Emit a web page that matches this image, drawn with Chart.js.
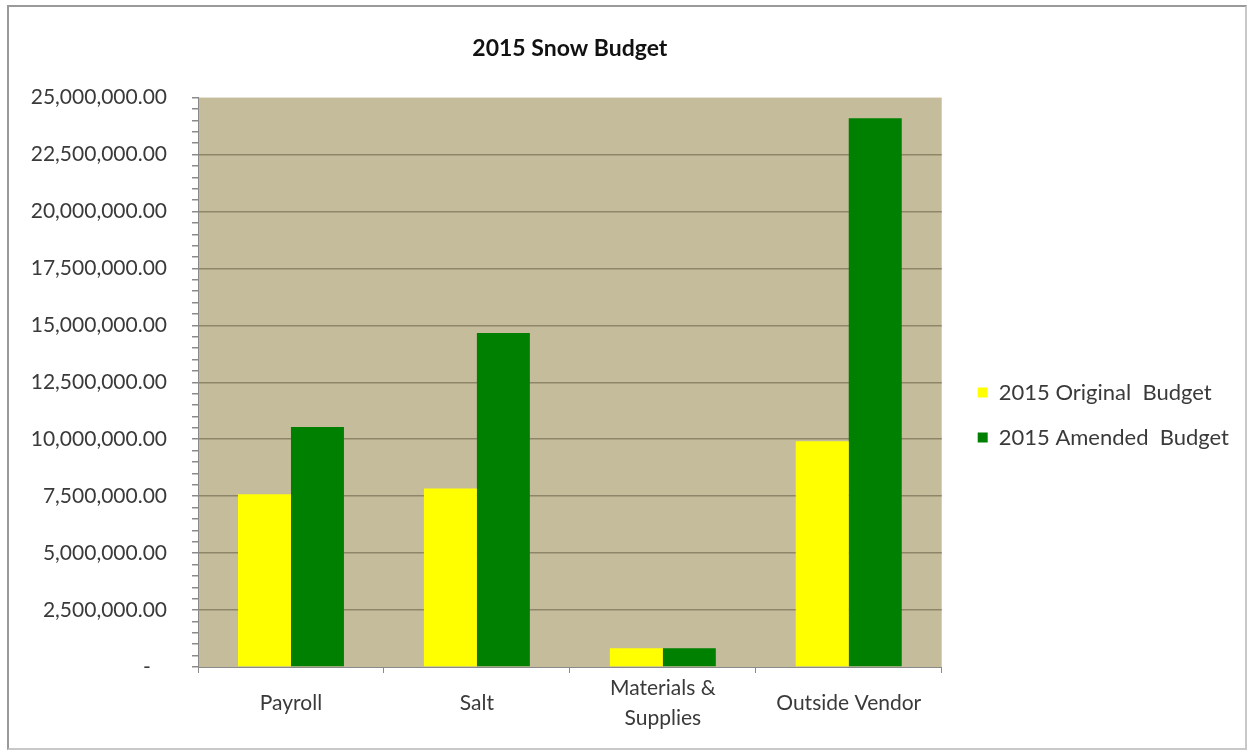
<!doctype html>
<html lang="en">
  <head>
    <meta charset="utf-8">
    <title>2015 Snow Budget</title>
    <script src="https://cdn.jsdelivr.net/npm/chart.js@4.4.0/dist/chart.umd.min.js"></script>
    <style>
      body { margin: 0; background: #fff; }
      #wrap { position: relative; width: 1252px; height: 755px; }
      #frame {
        position: absolute; left: 7px; top: 5px; width: 1236px; height: 741px;
        border: 2px solid #9a9a9a; border-right-color: #c8c8c8; border-bottom-color: #c8c8c8;
        pointer-events: none;
      }
    </style>
  </head>

  <body>
    <div id="wrap">
      <canvas id="budget" width="1252" height="755"></canvas>
      <div id="frame"></div>
    </div>

  <script>
    const categories = ['Payroll', 'Salt', ['Materials &', 'Supplies'], 'Outside Vendor'];
    const originalBudget = [7590000, 7840000, 820000, 9910000];
    const amendedBudget = [10540000, 14660000, 820000, 24090000];
    const seriesNames = ['2015 Original  Budget', '2015 Amended  Budget'];

    const MAJOR = 2500000;
    const TOP = 25000000;
    const textColor = '#3a3a3a';
    const fontFamily = 'Lato, "Open Sans", sans-serif';

    function money(v) {
      if (v === 0) return '-   ';
      return v.toLocaleString('en-US', {minimumFractionDigits: 2, maximumFractionDigits: 2});
    }

    // tan plot area behind the bars
    const plotBg = {
      id: 'plotBg',
      beforeDraw(chart) {
        const a = chart.chartArea, c = chart.ctx;
        c.save();
        c.fillStyle = '#c4bc9a';
        c.fillRect(a.left, a.top, a.right - a.left, a.bottom - a.top);
        c.restore();
      }
    };

    // title centred over the plot, legend nudged away from it
    const boxTweaks = {
      id: 'boxTweaks',
      afterLayout(chart) {
        if (chart.titleBlock) {
          chart.titleBlock.left = chart.chartArea.left;
          chart.titleBlock.right = chart.chartArea.right;
        }
        const lg = chart.legend;
        if (lg) {
          lg.left += 13; lg.right += 13;
          lg.top += 41; lg.bottom += 41;
        }
      }
    };

    const ctx = document.getElementById('budget').getContext('2d');
    new Chart(ctx, {
      type: 'bar',
      data: {
        labels: categories,
        datasets: [
          { label: seriesNames[0], data: originalBudget, backgroundColor: '#ffff00' },
          { label: seriesNames[1], data: amendedBudget, backgroundColor: '#008000' }
        ]
      },
      options: {
        responsive: false,
        animation: false,
        layout: { padding: { left: 10, right: 26, top: 0, bottom: 7 } },
        datasets: { bar: { categoryPercentage: 0.57, barPercentage: 1.0 } },
        plugins: {
          title: {
            display: true,
            text: '2015 Snow Budget',
            color: '#111',
            font: { family: fontFamily, size: 23, weight: 'bold', lineHeight: 1.2 },
            padding: { top: 35, bottom: 35 }
          },
          legend: {
            position: 'right',
            labels: {
              color: textColor,
              font: { family: fontFamily, size: 22 },
              boxWidth: 10,
              boxHeight: 10,
              padding: 23
            }
          },
          tooltip: { enabled: false }
        },
        scales: {
          x: {
            offset: true,
            afterFit(s) { s.height = 81; },
            grid: { offset: true, drawOnChartArea: false, tickLength: 6, color: '#8a8a8a' },
            border: { color: '#8a8a8a' },
            ticks: {
              color: textColor,
              padding: 15,
              crossAlign: 'center',
              font: { family: fontFamily, size: 21, lineHeight: 1.43 }
            }
          },
          y: {
            min: 0,
            max: TOP,
            afterFit(s) { s.width = 188; },
            grid: {
              tickLength: 6,
              color: (c) => c.tick && c.tick.value % MAJOR === 0 && c.tick.value > 0 && c.tick.value < TOP ? '#8e8668' : 'rgba(0,0,0,0)',
              tickColor: '#8a8a8a',
              lineWidth: 1.5
            },
            border: { color: '#8a8a8a' },
            ticks: {
              stepSize: 500000,
              autoSkip: false,
              padding: 25,
              color: textColor,
              font: { family: fontFamily, size: 21 },
              callback: (v) => v % MAJOR === 0 ? money(v) : ''
            }
          }
        }
      },
      plugins: [plotBg, boxTweaks]
    });
  </script>
  </body>
</html>
